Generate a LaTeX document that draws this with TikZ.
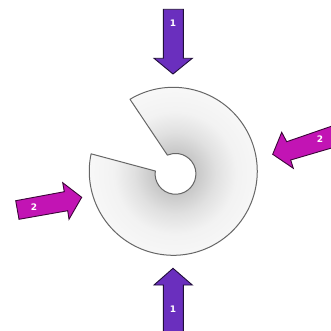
\documentclass[tikz,border=0pt]{standalone}
\usepackage{fontspec}
\setmainfont{DejaVu Sans}
\definecolor{pushviolet}{HTML}{6A2FBE}
\definecolor{pushmagenta}{HTML}{C214B4}
\pgfdeclareradialshading{discshade}{\pgfpoint{0bp}{0bp}}{%
  color(0bp)=(black!24); color(6bp)=(black!22); color(12bp)=(black!12);
  color(18bp)=(black!5); color(25bp)=(black!3); color(100bp)=(black!3)}
\newcommand{\discoutline}{(130,99.3) arc[start angle=-121, end angle=192, radius=84] -- (155.3,171)
  arc[start angle=188, end angle=-113.4, radius=20.4] -- cycle}
\begin{document}
\begin{tikzpicture}[
    x=1pt, y=-1pt,
    every node/.style={font=\bfseries\fontsize{9}{9}\selectfont, text=white, inner sep=0pt},
    push/.style={draw=black!70!#1, line width=0.9pt, line join=miter, fill=#1},
    outline/.style={draw=black!60, line width=1pt, line join=round}
]
\useasboundingbox (0,0) rectangle (331,331);

% Disc with its slot
\begin{scope}
\clip \discoutline;
\shade[shading=discshade] (175,173) circle[radius=85];
\end{scope}
\draw[outline] \discoutline;

% Vertical arrows
\draw[push=pushviolet] (163.3,9.3) -- (183.3,9.3) -- (183.3,58.3) -- (192.3,58.3) -- (173,74)
  -- (154,58.3) -- (163.3,58.3) -- cycle;
\draw[push=pushviolet] (163.3,335) -- (183.3,335) -- (183.3,285) -- (192.3,285) -- (173,268.3)
  -- (154,285) -- (163.3,285) -- cycle;

% Slanted arrows
\draw[push=pushmagenta] (335,125) -- (286.7,141.7) -- (281.7,132.3) -- (272.7,154.3)
  -- (293.3,168.3) -- (290.7,160) -- (335,147) -- cycle;
\draw[push=pushmagenta] (15.7,200.7) -- (64.3,191.7) -- (62.7,182.7) -- (81.7,197.3)
  -- (69,219.3) -- (67.7,210.7) -- (19,219.3) -- cycle;

% Labels
\node (top) at (173,23.3) {1};
\node (bottom) at (173,309.3) {1};
\node (right) at (320,139.3) {2};
\node (left) at (34,206.7) {2};
\end{tikzpicture}
\end{document}
